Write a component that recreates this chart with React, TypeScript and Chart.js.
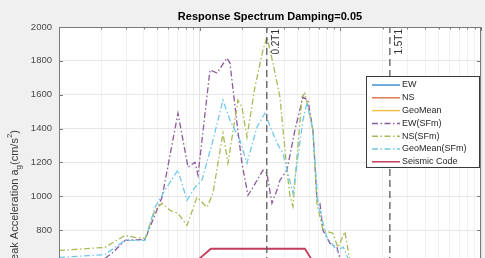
import React, { useEffect, useRef } from 'react';
import { Chart, registerables } from 'chart.js';

Chart.register(...registerables);

const titleText = 'Response Spectrum Damping=0.05';
const yTicks = [800, 1000, 1200, 1400, 1600, 1800, 2000];
const xGridValues = [
  0.01, 0.02, 0.03, 0.04, 0.05, 0.06, 0.07, 0.08, 0.09,
  0.1, 0.2, 0.3, 0.4, 0.5, 0.6, 0.7, 0.8, 0.9,
  1, 2, 3, 4, 5, 6, 7, 8, 9, 10,
];
const xMajor = [0.01, 0.1, 1, 10];

const seriesLabels = ['EW', 'NS', 'GeoMean', 'EW(SFm)', 'NS(SFm)', 'GeoMean(SFm)', 'Seismic Code'];
const seriesColors = ['#3f8fd0', '#e07a4f', '#efc24a', '#8a5a9c', '#a9b957', '#70c9ec', '#c43d5c'];

// unscaled records (all below the visible part of the axes)
const periodsRaw = [0.01, 0.03, 0.05, 0.07, 0.1, 0.15, 0.3, 0.6, 1, 2, 5, 10];
const ewRaw = [260, 300, 420, 560, 480, 600, 470, 520, 290, 180, 90, 50];
const nsRaw = [290, 330, 390, 420, 440, 540, 610, 530, 320, 170, 80, 45];
const geoRaw = [275, 315, 405, 485, 460, 570, 535, 525, 305, 175, 85, 47];

// scaled records
const periodsEwSfm = [0.01, 0.02, 0.0236, 0.0295, 0.0409, 0.054, 0.0701, 0.0826, 0.0926, 0.0973, 0.1184, 0.1327, 0.1563, 0.1642, 0.1841, 0.1998, 0.2205, 0.2392, 0.2818, 0.3007, 0.3265, 0.3542, 0.372, 0.4173, 0.4756, 0.5422, 0.5885, 0.6388, 0.6821, 0.7161, 0.7521, 0.8435, 0.9458, 0.9936, 1.2, 2, 4, 10];
const ewSfm = [520, 620, 660, 740, 745, 994, 1491, 1172, 1201, 1124, 1746, 1728, 1817, 1787, 1432, 1195, 1006, 1053, 1154, 1136, 959, 1036, 1095, 1154, 1391, 1586, 1568, 1391, 976, 959, 799, 722, 698, 633, 560, 420, 250, 120];

const periodsNsSfm = [0.01, 0.0212, 0.0295, 0.0347, 0.0409, 0.0481, 0.054, 0.0615, 0.0701, 0.0812, 0.0957, 0.1127, 0.1243, 0.1464, 0.1589, 0.1871, 0.1998, 0.2169, 0.2472, 0.2818, 0.3007, 0.3319, 0.3721, 0.4173, 0.4384, 0.4603, 0.5335, 0.5603, 0.6388, 0.6821, 0.7521, 0.886, 0.9614, 1.078, 1.17, 1.6, 3, 10];
const nsSfm = [680, 698, 769, 757, 751, 917, 959, 917, 899, 828, 994, 935, 1018, 1373, 1195, 1568, 1527, 1349, 1645, 1864, 1941, 1787, 1586, 1154, 1000, 940, 1586, 1609, 1391, 959, 799, 781, 698, 790, 620, 520, 360, 160];

const periodsGeoSfm = [0.01, 0.0212, 0.0295, 0.0409, 0.0481, 0.0567, 0.0701, 0.0812, 0.0926, 0.1038, 0.1243, 0.1464, 0.1642, 0.1933, 0.2169, 0.2554, 0.2911, 0.3542, 0.3908, 0.4603, 0.5422, 0.5789, 0.6388, 0.6933, 0.803, 0.9458, 1.05, 1.15, 2, 10];
const geoSfm = [639, 655, 740, 740, 935, 1036, 1155, 976, 1053, 1095, 1331, 1568, 1450, 1331, 1195, 1408, 1491, 1314, 1254, 1018, 1450, 1550, 1391, 959, 757, 680, 700, 620, 430, 150];

// design code spectrum
const periodsCode = [0.01, 0.05, 0.1, 0.12, 0.56, 0.7, 1, 2, 5, 10];
const codeValues = [320, 480, 633, 690, 690, 560, 410, 220, 110, 70];

// T1 markers
const markerPeriods = [0.3, 2.25];
const markerLabels = ['0.2T1', '1.5T1'];

const Y_MIN = 600;
const Y_MAX = 2000;
const FONT = '"Liberation Sans", Arial, Helvetica, sans-serif';
const DASH_DOT = [6, 2.5, 1.5, 2.5];

const pts = (xs: number[], ys: number[]) => xs.map((x, i) => ({ x, y: ys[i] }));

const backgroundPlugin = {
  id: 'bg',
  beforeDraw(chart: any) {
    const { ctx, chartArea: a } = chart;
    ctx.save();
    ctx.fillStyle = '#f0f0f0';
    ctx.fillRect(0, 0, chart.width, chart.height);
    ctx.fillStyle = '#ffffff';
    ctx.fillRect(a.left, a.top, a.right - a.left, a.bottom - a.top);
    ctx.restore();
  },
};

const decorPlugin = {
  id: 'decor',
  afterDraw(chart: any) {
    const { ctx, chartArea: a } = chart;
    const xs = chart.scales.x;
    const ys = chart.scales.y;
    ctx.save();

    // axes box
    ctx.strokeStyle = '#7a7a7a';
    ctx.lineWidth = 1;
    ctx.setLineDash([]);
    ctx.beginPath();
    ctx.moveTo(a.left + 0.5, a.bottom);
    ctx.lineTo(a.left + 0.5, a.top + 0.5);
    ctx.lineTo(a.right - 0.5, a.top + 0.5);
    ctx.lineTo(a.right - 0.5, a.bottom);
    ctx.stroke();

    // inward ticks
    ctx.beginPath();
    yTicks.forEach((v) => {
      const y = Math.round(ys.getPixelForValue(v)) + 0.5;
      ctx.moveTo(a.left, y);
      ctx.lineTo(a.left + 4, y);
      ctx.moveTo(a.right, y);
      ctx.lineTo(a.right - 4, y);
    });
    xGridValues.forEach((v) => {
      const x = Math.round(xs.getPixelForValue(v)) + 0.5;
      const len = xMajor.includes(v) ? 4 : 2.5;
      ctx.moveTo(x, a.top);
      ctx.lineTo(x, a.top + len);
    });
    ctx.stroke();

    // marker labels
    ctx.fillStyle = '#333333';
    ctx.font = `10px ${FONT}`;
    ctx.textBaseline = 'middle';
    ctx.textAlign = 'right';
    markerPeriods.forEach((p, i) => {
      const x = xs.getPixelForValue(p);
      ctx.save();
      ctx.translate(x + 9, a.top + 2);
      ctx.rotate(-Math.PI / 2);
      ctx.fillText(markerLabels[i], 0, 0);
      ctx.restore();
    });

    // title
    ctx.fillStyle = '#000000';
    ctx.font = `bold 11px ${FONT}`;
    ctx.textAlign = 'center';
    ctx.textBaseline = 'middle';
    ctx.fillText(titleText, (a.left + a.right) / 2, 17);

    // y axis label with subscript/superscript
    const main = `11px ${FONT}`;
    const small = `8px ${FONT}`;
    const pieces: [string, string, number][] = [
      ['Peak Acceleration a', main, 0],
      ['g', small, 3],
      ['(cm/s', main, 0],
      ['2', small, -6],
      [')', main, 0],
    ];
    let total = 0;
    pieces.forEach(([t, f]) => {
      ctx.font = f;
      total += ctx.measureText(t).width;
    });
    ctx.save();
    ctx.translate(18, 130 + total);
    ctx.rotate(-Math.PI / 2);
    ctx.fillStyle = '#3a3a3a';
    ctx.textAlign = 'left';
    ctx.textBaseline = 'alphabetic';
    let px = 0;
    pieces.forEach(([t, f, dy]) => {
      ctx.font = f;
      ctx.fillText(t, px, dy);
      px += ctx.measureText(t).width;
    });
    ctx.restore();

    // legend box
    const lx = 366, ly = 76, lw = 113, lh = 91;
    ctx.fillStyle = '#ffffff';
    ctx.fillRect(lx, ly, lw, lh);
    ctx.strokeStyle = '#3a3a3a';
    ctx.lineWidth = 1;
    ctx.setLineDash([]);
    ctx.strokeRect(lx + 0.5, ly + 0.5, lw, lh);
    const dsList = chart.data.datasets.slice(0, seriesLabels.length);
    ctx.font = `9px ${FONT}`;
    ctx.textAlign = 'left';
    ctx.textBaseline = 'middle';
    dsList.forEach((ds: any, i: number) => {
      const y = ly + 9 + i * 12.8;
      ctx.strokeStyle = ds.borderColor;
      ctx.lineWidth = 1.5;
      ctx.setLineDash(ds.borderDash || []);
      ctx.beginPath();
      ctx.moveTo(lx + 6, y);
      ctx.lineTo(lx + 34, y);
      ctx.stroke();
      ctx.setLineDash([]);
      ctx.fillStyle = '#262626';
      ctx.fillText(ds.label, lx + 36, y);
    });

    ctx.restore();
  },
};

export default function App() {
  const canvasRef = useRef<HTMLCanvasElement | null>(null);

  useEffect(() => {
    if (!canvasRef.current) return;
    const seriesData = [
      pts(periodsRaw, ewRaw),
      pts(periodsRaw, nsRaw),
      pts(periodsRaw, geoRaw),
      pts(periodsEwSfm, ewSfm),
      pts(periodsNsSfm, nsSfm),
      pts(periodsGeoSfm, geoSfm),
      pts(periodsCode, codeValues),
    ];
    const datasets: any[] = seriesData.map((data, i) => ({
      label: seriesLabels[i],
      data,
      borderColor: seriesColors[i],
      borderWidth: i === 6 ? 1.8 : 1.3,
      borderDash: i >= 3 && i <= 5 ? DASH_DOT : [],
      pointRadius: 0,
      fill: false,
      tension: 0,
      order: 20 - i,
    }));
    markerPeriods.forEach((p, i) => {
      datasets.push({
        label: markerLabels[i],
        data: [
          { x: p, y: Y_MIN },
          { x: p, y: Y_MAX },
        ],
        borderColor: '#5c5c5c',
        borderWidth: 1.3,
        borderDash: [7, 4],
        pointRadius: 0,
        fill: false,
        order: 5 - i,
      });
    });

    const chart = new Chart(canvasRef.current, {
      type: 'line',
      data: { datasets },
      options: {
        animation: false,
        responsive: false,
        devicePixelRatio: 1,
        events: [],
        layout: { padding: { top: 27, right: 4, bottom: 16, left: 0 } },
        plugins: {
          legend: { display: false },
          title: { display: false },
          tooltip: { enabled: false },
        },
        scales: {
          x: {
            type: 'logarithmic',
            min: 0.01,
            max: 10,
            afterBuildTicks: (s: any) => {
              s.ticks = xGridValues.map((v) => ({ value: v }));
            },
            afterFit: (s: any) => {
              s.height = 0;
            },
            ticks: { display: false },
            border: { display: false },
            grid: {
              drawTicks: false,
              color: (c: any) => (xMajor.includes(c.tick && c.tick.value) ? '#e2e2e2' : '#f1f1f1'),
            },
          },
          y: {
            type: 'linear',
            min: Y_MIN,
            max: Y_MAX,
            afterBuildTicks: (s: any) => {
              s.ticks = yTicks.map((v) => ({ value: v }));
            },
            afterFit: (s: any) => {
              s.width = 59;
            },
            ticks: {
              color: '#4a4a4a',
              padding: 7,
              font: { family: FONT, size: 9.5 },
              callback: (v: any) => String(v),
            },
            border: { display: false },
            grid: { drawTicks: false, color: '#e6e6e6' },
          },
        },
      },
      plugins: [backgroundPlugin, decorPlugin],
    });
    return () => chart.destroy();
  }, []);

  return (
    <div
      style={{
        position: 'fixed',
        left: 0,
        top: 0,
        width: 485,
        height: 258,
        overflow: 'hidden',
        background: '#f0f0f0',
      }}
    >
      <canvas ref={canvasRef} width={485} height={280} style={{ display: 'block' }} />
    </div>
  );
}
